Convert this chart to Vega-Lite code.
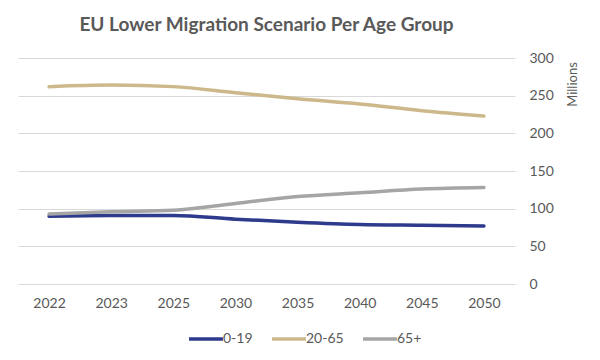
{
  "$schema": "https://vega.github.io/schema/vega-lite/v6.json",
  "autosize": {"type": "none"},
  "width": 497,
  "height": 226,
  "padding": {"left": 18, "top": 58, "right": 85, "bottom": 76},
  "background": "white",
  "title": {
    "text": "EU Lower Migration Scenario Per Age Group",
    "font": "Lato",
    "fontSize": 19,
    "fontWeight": "bold",
    "color": "#595959",
    "anchor": "middle",
    "frame": "group",
    "dx": 0,
    "offset": 16
  },
  "data": {
    "values": [
      {"year": "2022", "group": "0-19", "value": 90},
      {"year": "2023", "group": "0-19", "value": 91},
      {"year": "2025", "group": "0-19", "value": 91},
      {"year": "2030", "group": "0-19", "value": 86},
      {"year": "2035", "group": "0-19", "value": 82},
      {"year": "2040", "group": "0-19", "value": 79},
      {"year": "2045", "group": "0-19", "value": 78},
      {"year": "2050", "group": "0-19", "value": 77},
      {"year": "2022", "group": "20-65", "value": 262},
      {"year": "2023", "group": "20-65", "value": 264},
      {"year": "2025", "group": "20-65", "value": 262},
      {"year": "2030", "group": "20-65", "value": 254},
      {"year": "2035", "group": "20-65", "value": 246},
      {"year": "2040", "group": "20-65", "value": 239},
      {"year": "2045", "group": "20-65", "value": 230},
      {"year": "2050", "group": "20-65", "value": 223},
      {"year": "2022", "group": "65+", "value": 93},
      {"year": "2023", "group": "65+", "value": 96},
      {"year": "2025", "group": "65+", "value": 98},
      {"year": "2030", "group": "65+", "value": 107},
      {"year": "2035", "group": "65+", "value": 116},
      {"year": "2040", "group": "65+", "value": 121},
      {"year": "2045", "group": "65+", "value": 126},
      {"year": "2050", "group": "65+", "value": 128}
    ]
  },
  "mark": {"type": "line", "strokeWidth": 3.5, "strokeCap": "round", "interpolate": "monotone"},
  "encoding": {
    "x": {
      "field": "year", "type": "ordinal", "title": null,
      "scale": {"type": "point", "padding": 0.5},
      "axis": {"labelAngle": 0, "domain": false, "ticks": false, "labelPadding": 12, "labelFont": "Lato", "labelFontSize": 14, "labelColor": "#595959", "grid": false}
    },
    "y": {
      "field": "value", "type": "quantitative", "title": "Millions",
      "scale": {"domain": [0, 300], "nice": false},
      "axis": {
        "orient": "right", "values": [0, 50, 100, 150, 200, 250, 300],
        "domain": false, "ticks": false, "grid": true, "gridColor": "#d9d9d9", "gridWidth": 1,
        "labelPadding": 14, "labelFont": "Lato", "labelFontSize": 14, "labelColor": "#595959",
        "titleFont": "Lato", "titleFontSize": 13, "titleFontWeight": "normal", "titleColor": "#595959",
        "titleAngle": 270, "titleX": 57, "titleY": 26, "titleAlign": "center", "titleBaseline": "middle"
      }
    },
    "color": {
      "field": "group", "type": "nominal", "title": null,
      "scale": {"domain": ["0-19", "20-65", "65+"], "range": ["#2E3A8C", "#CDB88C", "#A5A5A5"]},
      "legend": {
        "orient": "none", "direction": "horizontal", "legendX": 169, "legendY": 262,
        "symbolType": "stroke", "symbolSize": 1150, "symbolStrokeWidth": 3.5,
        "labelFont": "Lato", "labelFontSize": 14, "labelColor": "#595959", "labelOffset": -2,
        "columnPadding": 12
      }
    }
  },
  "config": {"view": {"stroke": null}}
}
